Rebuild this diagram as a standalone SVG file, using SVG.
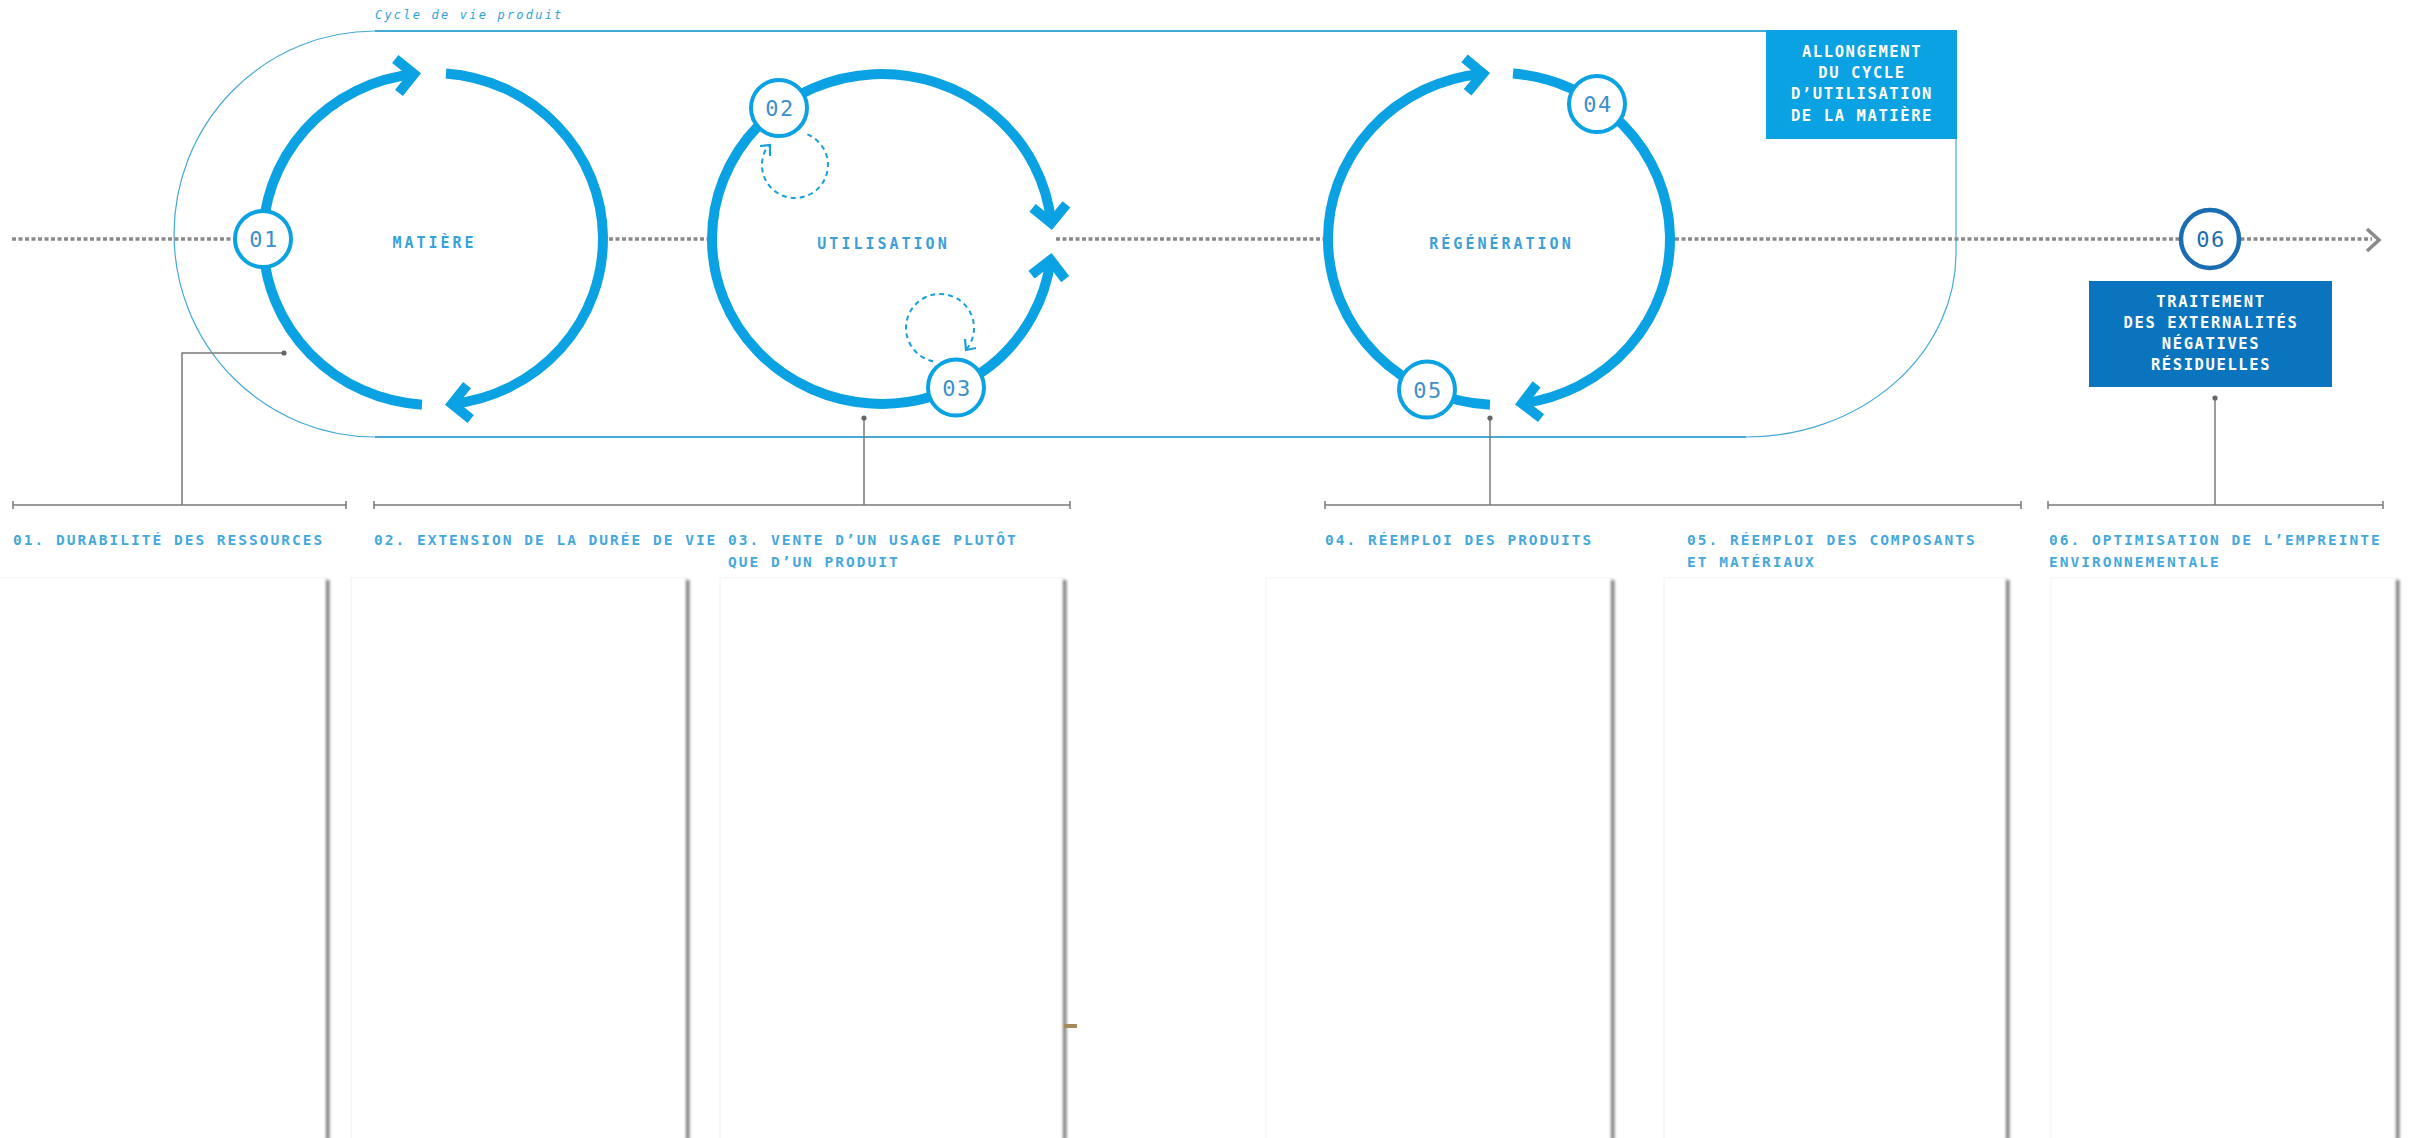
<svg xmlns="http://www.w3.org/2000/svg" width="2419" height="1138" viewBox="0 0 2419 1138">
  <defs>
    <style>
      .ring { fill: none; stroke: #0aa2e2; stroke-width: 10; }
      .chev { fill: none; stroke: #0aa2e2; stroke-width: 10; stroke-linejoin: miter; stroke-linecap: butt; }
      .loop { fill: none; stroke: #1a9fdc; stroke-width: 2; stroke-dasharray: 5 4; }
      .loophead { fill: none; stroke: #1a9fdc; stroke-width: 2.2; }
      .node circle { fill: #ffffff; stroke: #0aa2e2; stroke-width: 4; }
      .num { font-family: "DejaVu Sans Mono", "Liberation Mono", monospace; font-size: 22px; fill: #3d8fcb; text-anchor: middle; letter-spacing: 1.5px; }
      .cyc { font-family: "DejaVu Sans Mono", "Liberation Mono", monospace; font-weight: bold; font-size: 15px; fill: #3aa0da; letter-spacing: 3px; text-anchor: middle; }
      .lbl { font-family: "DejaVu Sans Mono", "Liberation Mono", monospace; font-weight: bold; font-size: 14.5px; fill: #45a8dc; letter-spacing: 2px; }
      .boxtxt { font-family: "DejaVu Sans Mono", "Liberation Mono", monospace; font-weight: bold; font-size: 15.5px; fill: #ffffff; letter-spacing: 1.6px; text-anchor: middle; }
      .title { font-family: "DejaVu Sans Mono", "Liberation Mono", monospace; font-style: italic; font-size: 12px; fill: #2fa3d8; letter-spacing: 2.2px; }
      .frame { fill: none; stroke: #45a9d6; }
      .dots { fill: none; stroke: #8a8a8a; stroke-width: 3.5; stroke-dasharray: 4 2.5; }
      .lead { fill: none; stroke: #7a7a7a; stroke-width: 1.5; }
      .pin { fill: #666666; }
      .panel { fill: #ffffff; stroke: #f1f1f1; stroke-width: 1; }
      .shade { fill: #7c7c7c; filter: url(#soft); }
    </style>
    <marker id="head" markerUnits="userSpaceOnUse" orient="auto" overflow="visible" markerWidth="1" markerHeight="1" refX="0" refY="0">
      <path class="chev" d="M -17 -17 L 0 0 L -17 17"/>
    </marker>
    <filter id="soft" x="-300%" y="-5%" width="700%" height="110%">
      <feGaussianBlur stdDeviation="1.6"/>
    </filter>
  </defs>

  <rect width="2419" height="1138" fill="#ffffff"/>

  <!-- empty text columns -->
  <g id="panels">
    <rect class="panel" x="-2" y="578" width="329" height="570"/>
    <rect class="shade" x="326" y="580" width="3.5" height="560"/>
    <rect class="panel" x="351" y="578" width="336" height="570"/>
    <rect class="shade" x="686" y="580" width="3.5" height="560"/>
    <rect class="panel" x="720" y="578" width="344" height="570"/>
    <rect class="shade" x="1063" y="580" width="3.5" height="560"/>
    <rect class="panel" x="1266" y="578" width="346" height="570"/>
    <rect class="shade" x="1611" y="580" width="3.5" height="560"/>
    <rect class="panel" x="1664" y="578" width="343" height="570"/>
    <rect class="shade" x="2006" y="580" width="3.5" height="560"/>
    <rect class="panel" x="2051" y="578" width="346" height="570"/>
    <rect class="shade" x="2396" y="580" width="3.5" height="560"/>
    <rect x="1064" y="1024" width="13" height="4" fill="#a88a5a"/>
  </g>

  <!-- product life-cycle frame -->
  <g id="lifecycle-frame">
    <path class="frame" stroke-width="2.2" d="M 375 31 L 1956 31 M 1746 437 L 375 437"/>
    <path class="frame" stroke-width="1.2" d="M 375 437 A 201 203 0 0 1 375 31 M 1956 31 L 1956 253 A 210 184 0 0 1 1746 437"/>
    <text class="title" x="375" y="19">Cycle de vie produit</text>
  </g>

  <!-- timeline and connectors -->
  <g id="connectors">
    <path class="dots" d="M 12 239 L 263 239 M 609 239 L 707 239 M 1056 239 L 1323 239 M 1675 239 L 2372 239"/>
    <path fill="none" stroke="#8a8a8a" stroke-width="3.5" d="M 2367 229 L 2379 240 L 2367 251"/>

    <path class="lead" d="M 284 353 L 182 353 L 182 505"/>
    <path class="lead" d="M 864 418 L 864 505"/>
    <path class="lead" d="M 1490 418 L 1490 505"/>
    <path class="lead" d="M 2215 398 L 2215 505"/>
    <circle class="pin" cx="284" cy="353" r="2.6"/>
    <circle class="pin" cx="864" cy="418" r="2.6"/>
    <circle class="pin" cx="1490" cy="418" r="2.6"/>
    <circle class="pin" cx="2215" cy="398" r="2.6"/>

    <path class="lead" d="M 13 505 L 346 505 M 13 501 L 13 509 M 346 501 L 346 509"/>
    <path class="lead" d="M 374 505 L 1070 505 M 374 501 L 374 509 M 1070 501 L 1070 509"/>
    <path class="lead" d="M 1325 505 L 2021 505 M 1325 501 L 1325 509 M 2021 501 L 2021 509"/>
    <path class="lead" d="M 2048 505 L 2383 505 M 2048 501 L 2048 509 M 2383 501 L 2383 509"/>
  </g>

  <!-- cycle: matière -->
  <g id="cycle-matiere">
    <path class="ring" marker-end="url(#head)" d="M 422 404.65 A 170 166 0 0 1 414 74.04"/>
    <path class="ring" marker-end="url(#head)" d="M 446 73.49 A 170 166 0 0 1 452 403.96"/>
    <text class="cyc" x="434.5" y="248">MATIÈRE</text>
  </g>

  <!-- cycle: utilisation -->
  <g id="cycle-utilisation">
    <path class="ring" marker-end="url(#head)" d="M 712 239 A 170 165 0 0 1 1051.2 223"/>
    <path class="ring" marker-end="url(#head)" d="M 712 239 A 170 165 0 0 0 1050.6 260"/>
    <path class="loop" d="M 807.4 134.4 A 33 33 0 1 1 768.6 145.1"/>
    <path class="loophead" d="M 760 146 L 770 145 L 770 156"/>
    <path class="loop" d="M 933.2 361.3 A 34 34 0 1 1 966 349.9"/>
    <path class="loophead" d="M 976 348 L 966 350 L 965 339"/>
    <text class="cyc" x="883.5" y="249">UTILISATION</text>
  </g>

  <!-- cycle: régénération -->
  <g id="cycle-regeneration">
    <path class="ring" marker-end="url(#head)" d="M 1490 404.77 A 171 166 0 0 1 1483 73.73"/>
    <path class="ring" marker-end="url(#head)" d="M 1513 73.56 A 171 166 0 0 1 1522 403.49"/>
    <text class="cyc" x="1501.5" y="249">RÉGÉNÉRATION</text>
  </g>

  <!-- numbered steps -->
  <g id="node-01" class="node">
    <circle cx="263" cy="239" r="28"/>
    <text class="num" x="264" y="247">01</text>
  </g>
  <g id="node-02" class="node">
    <circle cx="779" cy="108" r="28"/>
    <text class="num" x="780" y="116">02</text>
  </g>
  <g id="node-03" class="node">
    <circle cx="956" cy="387.5" r="28"/>
    <text class="num" x="957" y="395.5">03</text>
  </g>
  <g id="node-04" class="node">
    <circle cx="1597" cy="104" r="28"/>
    <text class="num" x="1598" y="112">04</text>
  </g>
  <g id="node-05" class="node">
    <circle cx="1427" cy="389.5" r="28"/>
    <text class="num" x="1428" y="397.5">05</text>
  </g>
  <g id="node-06" class="node">
    <circle cx="2210" cy="239" r="29" style="stroke:#1a6db3;stroke-width:4.5"/>
    <text class="num" x="2211" y="247" style="fill:#1a6db3">06</text>
  </g>

  <!-- callout boxes -->
  <g id="box-allongement">
    <rect x="1766" y="30" width="191" height="109" fill="#0aa2e2"/>
    <text class="boxtxt" x="1862" y="57">ALLONGEMENT</text>
    <text class="boxtxt" x="1862" y="78">DU CYCLE</text>
    <text class="boxtxt" x="1862" y="99">D’UTILISATION</text>
    <text class="boxtxt" x="1862" y="121">DE LA MATIÈRE</text>
  </g>
  <g id="box-traitement">
    <rect x="2089" y="281" width="243" height="106" fill="#0a74bf"/>
    <text class="boxtxt" x="2211" y="307">TRAITEMENT</text>
    <text class="boxtxt" x="2211" y="328">DES EXTERNALITÉS</text>
    <text class="boxtxt" x="2211" y="349">NÉGATIVES</text>
    <text class="boxtxt" x="2211" y="370">RÉSIDUELLES</text>
  </g>

  <!-- column headings -->
  <g id="labels">
    <text class="lbl" x="13" y="545">01. DURABILITÉ DES RESSOURCES</text>
    <text class="lbl" x="374" y="545">02. EXTENSION DE LA DURÉE DE VIE</text>
    <text class="lbl" x="728" y="545">03. VENTE D’UN USAGE PLUTÔT</text>
    <text class="lbl" x="728" y="567">QUE D’UN PRODUIT</text>
    <text class="lbl" x="1325" y="545">04. RÉEMPLOI DES PRODUITS</text>
    <text class="lbl" x="1687" y="545">05. RÉEMPLOI DES COMPOSANTS</text>
    <text class="lbl" x="1687" y="567">ET MATÉRIAUX</text>
    <text class="lbl" x="2049" y="545">06. OPTIMISATION DE L’EMPREINTE</text>
    <text class="lbl" x="2049" y="567">ENVIRONNEMENTALE</text>
  </g>
</svg>
